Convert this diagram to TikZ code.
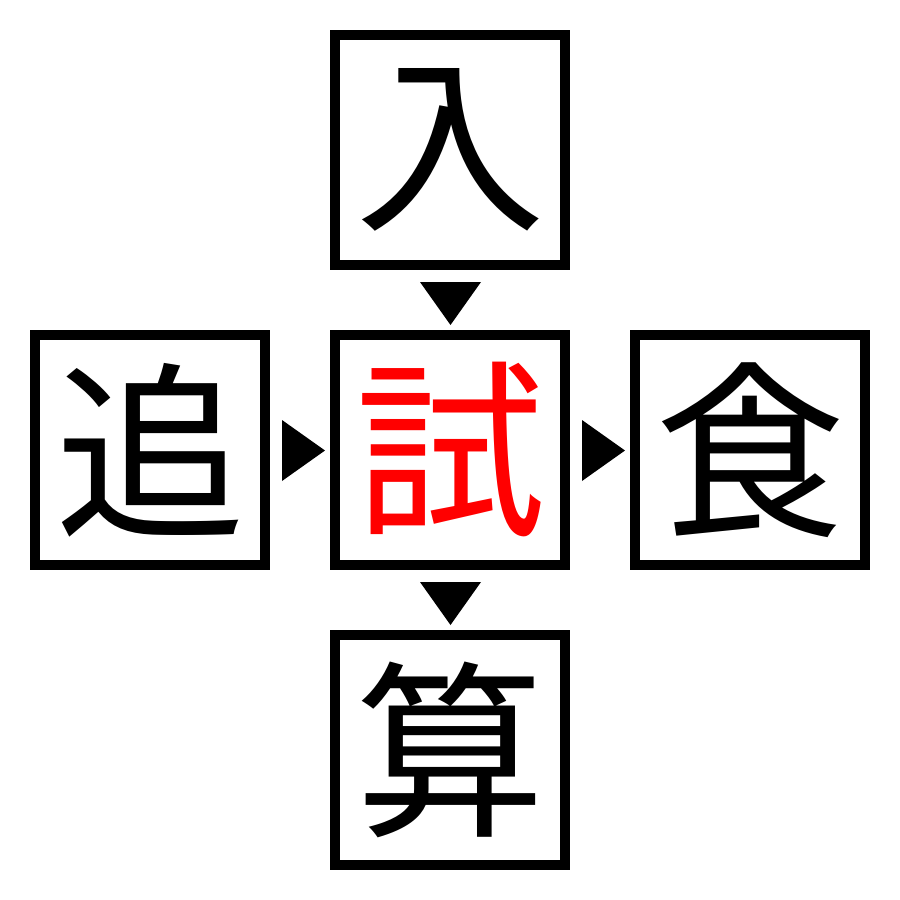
\documentclass[tikz,border=0pt]{standalone}
\usepackage{fontspec}
\newfontfamily\cjk{Noto Sans CJK JP}
\begin{document}
\begin{tikzpicture}[x=1pt,y=-1pt,
  kbox/.style={draw=black,line width=10pt,minimum size=230pt,inner sep=0pt,outer sep=0pt,
    font=\cjk\fontsize{190}{190}\selectfont},
  tri/.style={fill=black,draw=none}]
\useasboundingbox (0,0) rectangle (900,900);
\node[kbox] (top) at (450,150) {入};
\node[kbox] (left) at (150,450) {追};
\node[kbox,text=red] (mid) at (450,450) {試};
\node[kbox] (right) at (750,450) {食};
\node[kbox] (bot) at (450,750) {算};
\fill[tri] (420,282) -- (481,282) -- (450.5,325) -- cycle;
\fill[tri] (420,582) -- (481,582) -- (450.5,625) -- cycle;
\fill[tri] (282,420) -- (282,481) -- (325,450.5) -- cycle;
\fill[tri] (582,420) -- (582,481) -- (625,450.5) -- cycle;
\end{tikzpicture}
\end{document}
